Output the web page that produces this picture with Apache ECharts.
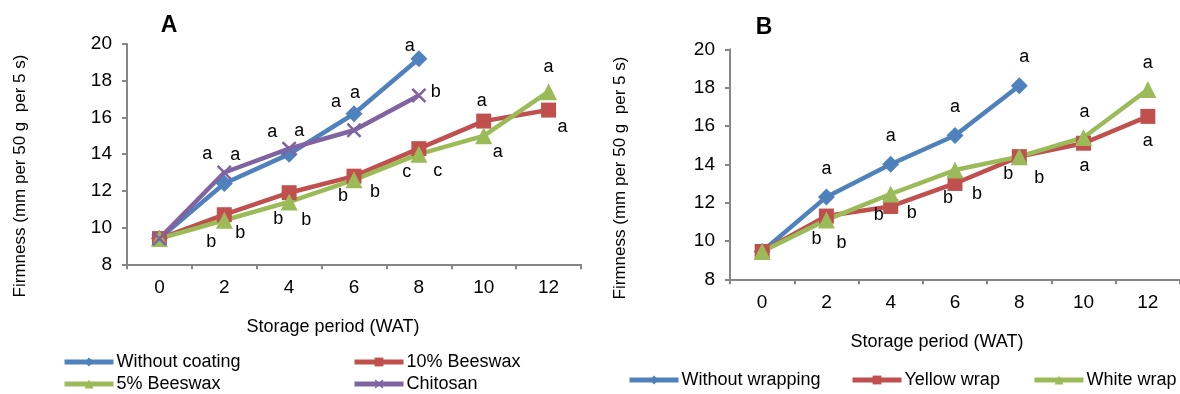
<!DOCTYPE html>
<html>
<head>
<meta charset="utf-8">
<script src="https://cdn.jsdelivr.net/npm/echarts@6/dist/echarts.min.js"></script>
<style>
  html, body { margin: 0; padding: 0; background: #fff; }
  #chart { width: 1180px; height: 394px; }
</style>
</head>
<body>
<div id="chart"></div>
<script>
// ---------- DATA ----------
const weeks = ['0', '2', '4', '6', '8', '10', '12'];

// Panel A (coatings)
const withoutCoating = [9.4, 12.4, 14.0, 16.2, 19.2];
const beeswax10 = [9.4, 10.7, 11.9, 12.8, 14.3, 15.8, 16.4];
const beeswax5 = [9.4, 10.4, 11.4, 12.6, 14.0, 15.0, 17.4];
const chitosan = [9.4, 13.0, 14.3, 15.3, 17.2];

const lettersWithoutCoating = ['', 'a', 'a', 'a', 'a'];
const lettersBeeswax10 = ['', 'b', 'b', 'b', 'c', 'a', 'a'];
const lettersBeeswax5 = ['', 'b', 'b', 'b', 'c', 'a', 'a'];
const lettersChitosan = ['', 'a', 'a', 'a', 'b'];

// Panel B (wraps)
const withoutWrapping = [9.45, 12.3, 14.0, 15.5, 18.1];
const yellowWrap = [9.45, 11.3, 11.8, 13.0, 14.4, 15.1, 16.5];
const whiteWrap = [9.45, 11.1, 12.45, 13.7, 14.4, 15.4, 17.9];

const lettersWithoutWrapping = ['', 'a', 'a', 'a', 'a'];
const lettersYellowWrap = ['', 'b', 'b', 'b', 'b', 'a', 'a'];
const lettersWhiteWrap = ['', 'b', 'b', 'b', 'b', 'a', 'a'];

const yMin = 8, yMax = 20, yStep = 2;

// ---------- LAYOUT (letter offsets in px from each point) ----------
const offWithoutCoating = [[0,0],[11,-28],[10,-23],[1,-21],[-9,-13]];
const offBeeswax10 = [[0,0],[-13,27],[-11,26],[-11,20],[-12,23],[-2,-20],[14,17]];
const offBeeswax5 = [[0,0],[16,13],[17,18],[21,12],[19,17],[14,16],[0,-25]];
const offChitosan = [[0,0],[-17,-18],[-17,-17],[-18,-28],[17,-3]];
const offWithoutWrapping = [[0,0],[0,-28],[0,-28],[0,-29],[5,-29]];
const offYellowWrap = [[0,0],[-10,23],[-12,9],[-7,15],[-11,17],[1,23],[0,25]];
const offWhiteWrap = [[0,0],[15,23],[21,19],[22,24],[20,21],[1,-25],[0,-27]];

const FONT = "'Liberation Sans', Arial, Helvetica, sans-serif";
const C_BLUE = '#4F81BD', C_RED = '#C0504D', C_GREEN = '#9BBB59', C_PURPLE = '#8064A2';
const AXIS_COLOR = '#868686';
const crossPath = 'path://M0,1.2L1.2,0L5,3.8L8.8,0L10,1.2L6.2,5L10,8.8L8.8,10L5,6.2L1.2,10L0,8.8L3.8,5Z';

function mkSeries(name, values, letters, offs, color, symbol, size, axisIdx) {
  return {
    name: name,
    type: 'line',
    xAxisIndex: axisIdx,
    yAxisIndex: axisIdx,
    symbol: symbol,
    symbolSize: size,
    showSymbol: true,
    showAllSymbol: true,
    lineStyle: { color: color, width: 4.5 },
    itemStyle: { color: color, borderWidth: 0 },
    emphasis: { disabled: true },
    label: {
      show: true,
      position: 'inside',
      color: '#000',
      fontFamily: FONT,
      fontSize: 18,
      formatter: function (p) { return letters[p.dataIndex] || ''; }
    },
    data: values.map(function (v, i) {
      return { value: v, label: { offset: offs[i] } };
    }),
    animation: false
  };
}

function mkX(gridIdx) {
  return {
    type: 'category',
    gridIndex: gridIdx,
    data: weeks,
    boundaryGap: true,
    axisLine: { lineStyle: { color: AXIS_COLOR, width: 2 } },
    axisTick: { show: true, alignWithLabel: false, length: 5, lineStyle: { color: AXIS_COLOR, width: 2 } },
    axisLabel: { color: '#000', fontFamily: FONT, fontSize: 19, margin: 14 },
    splitLine: { show: false }
  };
}
function mkY(gridIdx) {
  return {
    type: 'value',
    gridIndex: gridIdx,
    min: yMin, max: yMax, interval: yStep,
    axisLine: { show: true, lineStyle: { color: AXIS_COLOR, width: 2 } },
    axisTick: { show: true, length: 5, lineStyle: { color: AXIS_COLOR, width: 2 } },
    axisLabel: { color: '#000', fontFamily: FONT, fontSize: 19, margin: 15 },
    splitLine: { show: false }
  };
}
function mkLegend(name, left, centerY) {
  return {
    data: [name],
    left: left,
    top: centerY - 10,
    padding: 0,
    itemWidth: 49,
    itemHeight: 11,
    itemGap: 0,
    lineStyle: { width: 5 },
    textStyle: { color: '#000', fontFamily: FONT, fontSize: 18, padding: [0, 0, 0, -2] }
  };
}

const chart = echarts.init(document.getElementById('chart'), null, { renderer: 'canvas' });
chart.setOption({
  backgroundColor: '#fff',
  animation: false,
  grid: [
    { left: 127, top: 44, width: 454, height: 220.3 },
    { left: 730, top: 49.3, width: 452, height: 230 }
  ],
  xAxis: [mkX(0), mkX(1)],
  yAxis: [mkY(0), mkY(1)],
  legend: [
    mkLegend('Without coating', 62, 363),
    mkLegend('10% Beeswax', 352, 363),
    mkLegend('5% Beeswax', 62, 385),
    mkLegend('Chitosan', 352, 385),
    mkLegend('Without wrapping', 627, 381),
    mkLegend('Yellow wrap', 850, 381),
    mkLegend('White wrap', 1032, 381)
  ],
  series: [
    mkSeries('Without coating', withoutCoating, lettersWithoutCoating, offWithoutCoating, C_BLUE, 'diamond', 17, 0),
    mkSeries('10% Beeswax', beeswax10, lettersBeeswax10, offBeeswax10, C_RED, 'rect', 15, 0),
    mkSeries('5% Beeswax', beeswax5, lettersBeeswax5, offBeeswax5, C_GREEN, 'triangle', 17, 0),
    mkSeries('Chitosan', chitosan, lettersChitosan, offChitosan, C_PURPLE, crossPath, 15, 0),
    mkSeries('Without wrapping', withoutWrapping, lettersWithoutWrapping, offWithoutWrapping, C_BLUE, 'diamond', 17, 1),
    mkSeries('Yellow wrap', yellowWrap, lettersYellowWrap, offYellowWrap, C_RED, 'rect', 15, 1),
    mkSeries('White wrap', whiteWrap, lettersWhiteWrap, offWhiteWrap, C_GREEN, 'triangle', 17, 1)
  ],
  graphic: [
    { type: 'text', x: 169, y: 26, style: { text: 'A', font: "bold 23px " + FONT, fill: '#000', textAlign: 'center', textVerticalAlign: 'middle' } },
    { type: 'text', x: 764, y: 28, style: { text: 'B', font: "bold 23px " + FONT, fill: '#000', textAlign: 'center', textVerticalAlign: 'middle' } },
    { type: 'text', x: 20, y: 176, rotation: Math.PI / 2, style: { text: 'Firmness (mm per 50 g  per 5 s)', font: "17px " + FONT, fill: '#000', textAlign: 'center', textVerticalAlign: 'middle' } },
    { type: 'text', x: 620, y: 178, rotation: Math.PI / 2, style: { text: 'Firmness (mm per 50 g  per 5 s)', font: "17px " + FONT, fill: '#000', textAlign: 'center', textVerticalAlign: 'middle' } },
    { type: 'text', x: 333, y: 327, style: { text: 'Storage period (WAT)', font: "18px " + FONT, fill: '#000', textAlign: 'center', textVerticalAlign: 'middle' } },
    { type: 'text', x: 937, y: 342, style: { text: 'Storage period (WAT)', font: "18px " + FONT, fill: '#000', textAlign: 'center', textVerticalAlign: 'middle' } }
  ]
});
</script>
</body>
</html>
